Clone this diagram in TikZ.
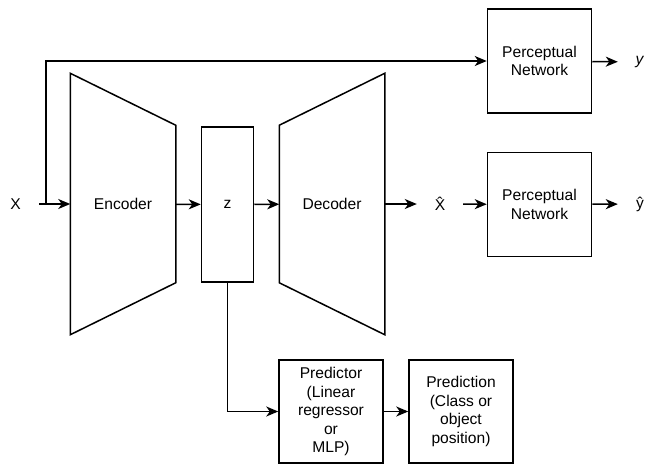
\documentclass[tikz,border=0pt]{standalone}
\usepackage{fontspec}
\setmainfont{Liberation Sans}
\usetikzlibrary{calc,arrows.meta}
\tikzset{
	box/.style={draw, line width=1.5pt, align=center, inner sep=0pt},
	lbl/.style={inner sep=0pt, minimum width=44pt, minimum height=16pt},
	arr/.style={line width=1.5pt, -{Stealth[length=12pt, width=10pt, inset=3.5pt]}},
	ln/.style={line width=1.5pt}
}

\begin{document}
\begin{tikzpicture}[x=1pt, y=-1pt, font=\fontsize{15.6}{18.5}\selectfont]
			%%%%% START %%%%%
			\useasboundingbox (0, 0) rectangle (651, 464);
			
			% encoder / latent / decoder
			\node[box, draw=none, minimum width=104, minimum height=260] (enc) at (123, 204) {Encoder};
			\draw[ln] (enc.north west) -- ([yshift=-52pt]enc.north east) -- ([yshift=52pt]enc.south east) -- (enc.south west) -- cycle;
			\node[box, minimum width=52, minimum height=155] (z) at (227.5, 204.5) {z};
			\node[box, draw=none, minimum width=104, minimum height=260] (dec) at (332, 204) {Decoder};
			\draw[ln] (dec.north east) -- ([yshift=-52pt]dec.north west) -- ([yshift=52pt]dec.south west) -- (dec.south east) -- cycle;
			
			% perceptual networks
			\node[box, minimum width=104, minimum height=104] (pnx) at (539.5, 61) {Perceptual\\Network};
			\node[box, minimum width=104, minimum height=104] (pnxhat) at (539.5, 204.5) {Perceptual\\Network};
			
			% predictor
			\node[box, minimum width=104, minimum height=103] (pred) at (331, 411.5) {Predictor\\(Linear\\regressor\\or\\MLP)};
			\node[box, minimum width=104, minimum height=103] (predout) at (461, 411.5) {Prediction\\(Class or\\object\\position)};
			
			% labels
			\node[lbl, minimum width=47pt] (x) at (15.5, 204) {X};
			\node[lbl, minimum width=46pt] (xhat) at (440, 204) {\^{X}};
			\node[lbl] (y) at (640, 62) {\textit{y}};
			\node[lbl] (yhat) at (640, 204) {ŷ};
			\coordinate (split) at (46, 204);
			
			% connectors
			\draw[arr] (x) -- (enc);
			\draw[arr] (split) |- (pnx.west);
			\draw[arr] (enc) -- (z);
			\draw[arr] (z) -- (dec);
			\draw[arr] (dec) -- (xhat);
			\draw[arr] (xhat) -- (pnxhat);
			\draw[arr] (pnx) -- (y);
			\draw[arr] (pnxhat) -- (yhat);
			\draw[arr] (z.south) |- (pred.west);
			\draw[arr] (pred) -- (predout);
			%%%%% END %%%%%
\end{tikzpicture}
\end{document}
